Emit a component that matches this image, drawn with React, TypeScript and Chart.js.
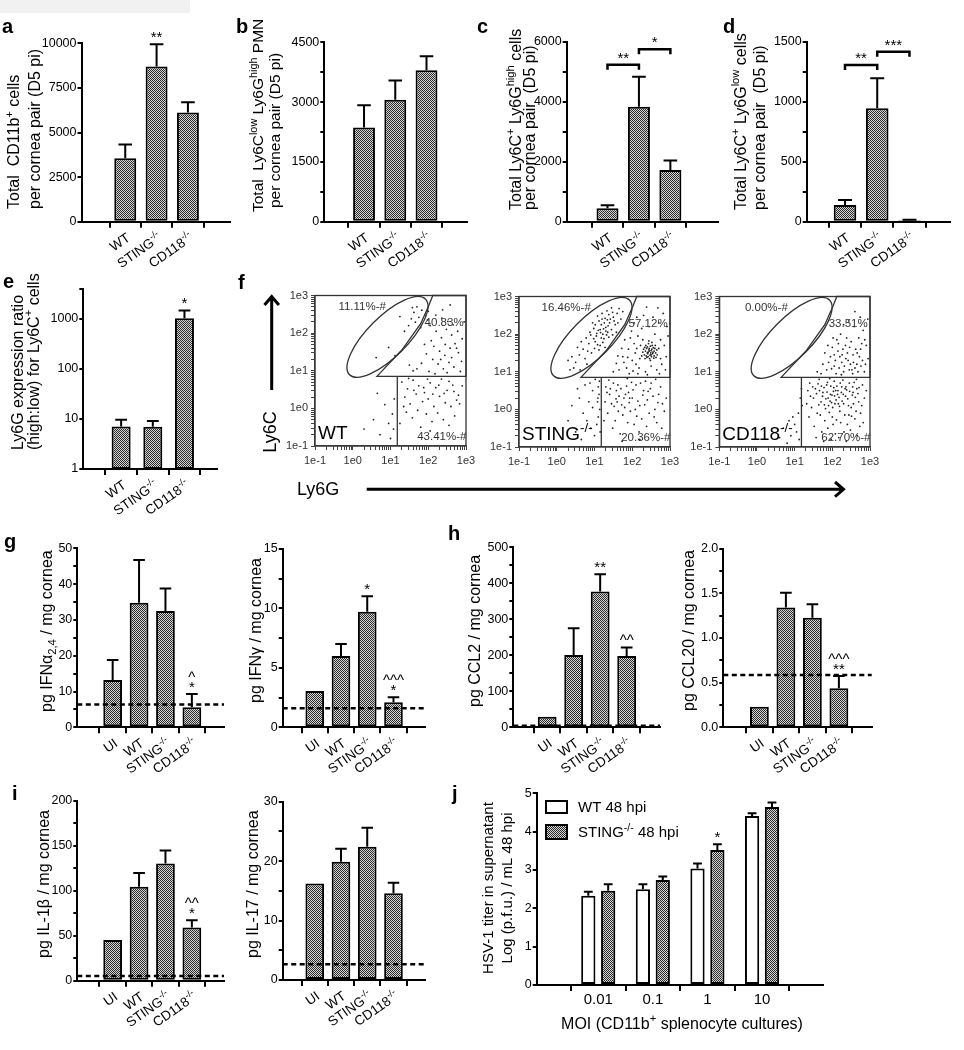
import React, { useEffect, useRef } from 'react';
import { Chart, registerables } from 'chart.js';

Chart.register(...registerables);

const FONT = '"Liberation Sans", Arial, Helvetica, sans-serif';
const PAGE_W = 964;
const PAGE_H = 1050;
const DEG = Math.PI / 180;

// ---------------- data ----------------
const GROUPS_3 = ['WT', 'STING', 'CD118'];
const GROUPS_4 = ['UI', 'WT', 'STING', 'CD118'];
const KNOCKOUTS = ['STING', 'CD118'];
const MOI = ['0.01', '0.1', '1', '10'];

// a
const A_MEAN = [3550, 8700, 6120];
const A_SEM = [780, 1250, 580];
const A_TICKS = [0, 2500, 5000, 7500, 10000];
const A_LABELLED = [0, 2500, 5000, 7500, 10000];
// b
const B_MEAN = [2360, 3060, 3800];
const B_SEM = [560, 480, 350];
const B_TICKS = [0, 750, 1500, 2250, 3000, 3750, 4500];
const B_LABELLED = [0, 1500, 3000, 4500];
// c
const C_MEAN = [450, 3830, 1720];
const C_SEM = [100, 1000, 320];
const C_TICKS = [0, 1000, 2000, 3000, 4000, 5000, 6000];
const C_LABELLED = [0, 2000, 4000, 6000];
const C_BRACKETS: [number, number, number, string][] = [[0, 1, 5230, '**'], [1, 2, 5750, '*']];
// d
const D_MEAN = [139, 945, 12];
const D_SEM = [42, 250, 5];
const D_TICKS = [0, 250, 500, 750, 1000, 1250, 1500];
const D_LABELLED = [0, 500, 1000, 1500];
const D_BRACKETS: [number, number, number, string][] = [[0, 1, 1306, '**'], [1, 2, 1417, '***']];
// e
const E_MEAN = [7.1, 7.0, 1030];
const E_SEM = [2.5, 2.1, 440];
const E_TICKS = [1, 10, 100, 1000, 4000];
const E_LABELLED = [1, 10, 100, 1000];
// g
const G1_MEAN = [13.2, 34.8, 32.5, 5.6];
const G1_SEM = [5.6, 11.9, 6.3, 3.7];
const G1_LOD = 6.4;
const G1_TICKS = [0, 5, 10, 15, 20, 25, 30, 35, 40, 45, 50];
const G1_LABELLED = [0, 10, 20, 30, 40, 50];
const G2_MEAN = [3.05, 6.0, 9.7, 2.1];
const G2_SEM = [0, 1.0, 1.32, 0.42];
const G2_LOD = 1.6;
const G2_TICKS = [0, 2.5, 5, 7.5, 10, 12.5, 15];
const G2_LABELLED = [0, 5, 10, 15];
// h
const H1_MEAN = [29, 201, 377, 198];
const H1_SEM = [0, 74, 48, 24];
const H1_LOD = 4;
const H1_TICKS = [0, 50, 100, 150, 200, 250, 300, 350, 400, 450, 500];
const H1_LABELLED = [0, 100, 200, 300, 400, 500];
const H2_MEAN = [0.23, 1.34, 1.226, 0.436];
const H2_SEM = [0, 0.165, 0.15, 0.138];
const H2_LOD = 0.585;
const H2_TICKS = [0, 0.25, 0.5, 0.75, 1, 1.25, 1.5, 1.75, 2];
const H2_LABELLED = [0, 0.5, 1, 1.5, 2];
// i
const I1_MEAN = [45.2, 104.5, 130.4, 59.3];
const I1_SEM = [0, 15.5, 14.6, 8.1];
const I1_LOD = 5.2;
const I1_TICKS = [0, 25, 50, 75, 100, 125, 150, 175, 200];
const I1_LABELLED = [0, 50, 100, 150, 200];
const I2_MEAN = [16.25, 19.9, 22.4, 14.6];
const I2_SEM = [0, 2.2, 3.2, 1.75];
const I2_LOD = 2.64;
const I2_TICKS = [0, 5, 10, 15, 20, 25, 30];
const I2_LABELLED = [0, 10, 20, 30];
// j
const J_WT_MEAN = [2.33, 2.5, 3.04, 4.41];
const J_WT_SEM = [0.1, 0.13, 0.13, 0.07];
const J_KO_MEAN = [2.46, 2.74, 3.52, 4.64];
const J_KO_SEM = [0.17, 0.09, 0.15, 0.12];
const J_TICKS = [0, 1, 2, 3, 4, 5];

// f : flow cytometry (log10 Ly6G, log10 Ly6C) pairs
const FLOW_MAJOR = [0.1, 1, 10, 100, 1000];
const FLOW_MAJOR_LABELS = ['1e-1', '1e0', '1e1', '1e2', '1e3'];
const GATE_ELLIPSE = [0.92, 1.9, 1.42, 0.53, 45]; // cx, cy, a, b (decades), angle
const GATE_POLY = [[0.64, 0.85], [1.3, 1.55], [1.8, 2.25], [2.02, 2.75], [2.12, 3], [3, 3], [3, 0.85]];
const QUAD_X = 1.18;
const QUAD_Y = 0.85;
const PCT_POS = [[0.25, 2.72], [2.42, 2.29], [2.36, -0.74]];
const WT_PCTS = ['11.11%-#', '40.83%', '43.41%-#'];
const STING_PCTS = ['16.46%-#', '57.12%', '20.36%-#'];
const CD118_PCTS = ['0.00%-#', '33.51%', '62.70%-#'];

const WT_DOTS = [
  1.62, 2.55, 1.75, 2.42, 1.83, 2.61, 1.55, 2.38, 1.91, 2.48, 1.70, 2.70, 1.48, 2.20, 1.98, 2.35, 1.66, 2.29, 1.80, 2.15,
  1.37, 2.05, 0.95, 1.62, 1.12, 1.40, 0.62, 1.35, 1.25, 2.44, 1.58, 2.68,
  2.05, 2.20, 2.21, 2.05, 2.35, 1.88, 2.48, 2.10, 2.62, 1.95, 2.71, 1.72, 2.15, 1.65, 2.30, 1.52, 2.44, 1.41, 2.58, 1.60,
  2.80, 1.48, 2.12, 1.30, 2.26, 1.18, 2.40, 1.05, 2.55, 1.22, 2.68, 1.10, 2.88, 1.25, 1.95, 1.45, 1.82, 1.20, 1.70, 1.05,
  2.02, 0.98, 2.36, 2.40, 2.52, 2.31, 2.66, 2.22, 2.78, 2.05, 2.90, 1.85, 2.20, 2.48, 2.08, 1.80, 1.90, 1.70, 2.45, 1.70,
  2.62, 1.35, 2.75, 1.60, 2.33, 1.30, 2.18, 0.92, 2.50, 0.95, 2.85, 0.98, 1.60, 1.00, 1.50, 1.15, 2.00, 2.58, 2.38, 2.62,
  2.95, 2.30, 2.58, 2.75,
  1.30, 0.70, 1.45, 0.52, 1.60, 0.75, 1.75, 0.60, 1.90, 0.42, 2.05, 0.68, 2.20, 0.55, 2.35, 0.78, 2.50, 0.48, 2.65, 0.62,
  2.80, 0.35, 1.38, 0.30, 1.52, 0.12, 1.68, 0.38, 1.85, 0.18, 2.00, 0.25, 2.15, 0.05, 2.30, 0.32, 2.45, 0.15, 2.60, 0.05,
  2.75, 0.22, 2.90, 0.60, 1.42, -0.10, 1.58, -0.25, 1.72, -0.05, 1.95, -0.15, 2.10, -0.35, 2.25, -0.12, 2.40, -0.30,
  2.55, -0.45, 2.70, -0.20, 1.25, -0.40, 1.35, 0.05, 1.80, -0.50, 2.05, -0.60, 1.62, 0.48, 2.28, 0.62, 2.42, 0.40,
  1.98, 0.78, 2.55, 0.72, 1.88, 0.55, 2.12, 0.38, 1.48, 0.80, 2.68, 0.45, 2.83, 0.12,
  0.95, -0.40, 0.72, -0.70, 1.05, -0.15, 0.55, -0.30, 1.10, 0.25, 0.85, 0.10, 0.30, -0.55, 1.00, -0.80, 0.65, 0.40, 1.08, -0.55,
];

const STING_DOTS = [
  1.10, 2.10, 1.22, 2.00, 1.30, 2.18, 1.05, 1.95, 1.18, 2.25, 1.35, 2.05, 1.25, 1.88, 0.98, 2.15, 1.40, 2.30, 1.12, 2.35,
  1.28, 2.42, 1.45, 2.12, 1.02, 1.80, 1.15, 1.70, 0.90, 1.98, 1.50, 2.45, 1.38, 1.92, 1.20, 2.55, 1.55, 2.25, 0.85, 1.75,
  1.08, 2.48, 1.33, 2.62, 1.60, 2.55, 1.48, 1.98, 0.95, 2.30, 0.78, 1.90, 1.18, 1.90, 1.26, 2.30, 1.42, 2.40, 1.15, 2.12,
  1.06, 2.02, 1.32, 1.98, 0.70, 1.60, 0.60, 1.45, 0.82, 1.55, 0.50, 1.25, 0.40, 1.40, 0.65, 1.80, 0.92, 1.50, 1.00, 1.62,
  0.75, 1.35, 0.55, 1.65, 1.22, 1.78, 1.65, 2.68, 1.70, 2.40, 1.45, 2.70, 1.12, 1.58, 0.88, 2.05, 1.38, 2.52, 1.58, 2.05,
  1.02, 2.25, 1.24, 2.14, 1.36, 2.22, 1.16, 2.04, 1.30, 2.08, 0.98, 1.88, 1.08, 1.72, 0.45, 1.10, 0.30, 1.30, 1.20, 2.40,
  1.75, 2.60, 1.52, 2.35, 1.62, 2.30, 0.80, 1.20, 0.35, 1.05, 1.28, 1.65, 0.62, 1.05, 1.48, 2.58, 1.34, 2.38,
  2.45, 1.55, 2.40, 1.50, 2.52, 1.60, 2.38, 1.62, 2.50, 1.45, 2.55, 1.52, 2.42, 1.40, 2.35, 1.55, 2.48, 1.68, 2.58, 1.42,
  2.44, 1.58, 2.32, 1.45, 2.60, 1.62, 2.46, 1.35, 2.53, 1.70, 2.36, 1.70, 2.62, 1.50, 2.41, 1.48, 2.50, 1.56, 2.47, 1.44,
  2.56, 1.64, 2.30, 1.60, 2.39, 1.38, 2.65, 1.58, 2.43, 1.75, 2.57, 1.36, 2.34, 1.35, 2.49, 1.50, 2.28, 1.52, 2.52, 1.78,
  2.66, 1.45, 2.40, 1.66, 2.54, 1.48, 2.45, 1.62, 2.37, 1.42, 2.61, 1.70, 2.33, 1.65, 2.58, 1.55, 2.48, 1.30, 2.70, 1.62,
  2.25, 1.42, 2.44, 1.82, 2.51, 1.40, 2.63, 1.38, 2.42, 1.52,
  1.75, 1.40, 1.90, 1.60, 2.05, 1.75, 2.15, 1.95, 2.25, 2.15, 2.00, 1.30, 1.85, 1.10, 1.65, 1.05, 2.10, 1.20, 2.20, 1.35,
  1.95, 1.90, 2.05, 2.30, 2.30, 2.50, 2.45, 2.20, 2.60, 2.00, 2.75, 1.85, 2.85, 1.70, 2.90, 1.40, 2.78, 1.20, 2.65, 1.05,
  2.50, 1.15, 2.35, 1.00, 2.15, 0.95, 1.50, 1.00, 1.58, 1.22, 1.72, 1.62, 1.80, 1.85, 1.98, 2.08, 2.12, 2.45, 2.38, 2.72,
  2.55, 2.45, 2.70, 2.30, 2.82, 2.55, 2.95, 1.95, 2.88, 1.05, 2.72, 0.95, 2.40, 0.92, 1.92, 0.95, 1.78, 1.25, 2.08, 1.50,
  2.22, 1.70, 2.18, 1.10, 2.02, 1.02, 2.68, 2.70, 2.92, 2.20, 1.62, 1.42, 1.88, 1.38, 2.28, 1.85, 2.75, 1.35, 2.12, 1.62,
  1.30, 0.60, 1.40, 0.40, 1.50, 0.70, 1.60, 0.20, 1.70, 0.55, 1.80, 0.05, 1.90, 0.45, 2.00, 0.30, 2.10, 0.65, 2.20, 0.10,
  2.30, 0.50, 2.40, 0.25, 2.50, 0.70, 2.60, 0.00, 2.70, 0.40, 2.80, 0.15, 1.35, -0.10, 1.45, 0.15, 1.55, -0.30, 1.65, 0.35,
  1.75, -0.15, 1.85, 0.62, 1.95, -0.05, 2.05, -0.40, 2.15, 0.22, 2.25, -0.25, 2.35, 0.75, 2.45, -0.10, 2.55, 0.35,
  2.65, -0.35, 2.75, 0.60, 2.85, -0.05, 1.28, 0.20, 1.38, 0.78, 1.48, -0.50, 1.58, 0.50, 1.68, -0.65, 1.78, 0.30,
  1.88, -0.35, 1.98, 0.72, 2.08, 0.00, 2.18, -0.60, 2.28, 0.38, 2.38, -0.45, 2.48, 0.55, 2.58, -0.20, 2.68, 0.18,
  2.78, -0.50, 1.42, 0.55, 1.52, 0.08, 1.62, 0.65, 1.72, 0.12, 1.82, 0.40, 1.92, 0.18, 2.02, 0.52, 2.12, -0.18, 2.22, 0.70,
  1.33, 0.45, 1.63, -0.05, 1.93, 0.30, 2.33, 0.12, 1.57, 0.28, 1.87, 0.82, 2.42, 0.48, 2.62, 0.80, 1.25, -0.30, 1.73, -0.85,
  2.20, -0.80, 2.90, 0.30,
  1.10, 0.60, 1.12, 0.40, 1.08, 0.20, 1.14, 0.00, 1.10, -0.20, 1.06, -0.40, 1.13, 0.75, 1.09, 0.30, 0.95, 0.50, 0.85, 0.20,
  0.70, -0.10, 0.90, -0.50, 0.60, 0.30, 0.75, 0.65, 1.00, -0.70, 0.50, -0.60, 0.40, 0.10, 0.95, 0.05, 0.80, -0.30,
  1.02, 0.80, 0.65, -0.80, 0.30, -0.30, 1.15, -0.60, 0.88, 0.70, 0.55, 0.55,
];

const CD118_DOTS = [
  1.60, 1.00, 1.75, 1.20, 1.85, 1.05, 1.95, 1.40, 2.05, 1.15, 2.15, 1.55, 2.25, 1.25, 2.35, 1.70, 2.45, 1.05, 2.55, 1.45,
  2.65, 1.20, 2.75, 1.60, 2.85, 1.00, 2.95, 1.35, 1.70, 0.95, 1.90, 1.25, 2.00, 1.65, 2.10, 0.95, 2.20, 1.40, 2.30, 1.00,
  2.40, 1.50, 2.50, 1.80, 2.60, 1.10, 2.70, 1.90, 2.80, 1.30, 2.90, 1.70, 2.12, 1.85, 2.22, 2.00, 2.32, 1.15, 2.42, 1.30,
  2.52, 1.05, 2.62, 1.60, 2.72, 1.40, 2.82, 2.10, 1.98, 1.08, 2.08, 1.30, 2.18, 1.10, 2.28, 1.60, 2.38, 1.90, 2.48, 1.20,
  2.58, 2.20, 2.68, 1.00, 2.78, 1.75, 2.88, 1.20, 1.80, 1.50, 1.88, 1.70, 2.02, 1.90, 2.16, 1.75, 2.26, 1.45, 2.36, 1.35,
  2.46, 1.65, 2.56, 1.25, 2.66, 1.50, 2.76, 1.15, 2.86, 1.85, 2.94, 2.40, 2.44, 2.35, 2.60, 2.60, 2.30, 2.25, 2.05, 1.45,
  2.24, 0.92, 2.54, 0.95, 2.74, 2.45,
  1.40, 0.70, 1.50, 0.30, 1.55, 0.55, 1.60, -0.10, 1.65, 0.80, 1.70, 0.20, 1.75, 0.45, 1.80, -0.30, 1.85, 0.65, 1.90, 0.10,
  1.95, 0.40, 2.00, -0.20, 2.05, 0.75, 2.10, 0.25, 2.15, 0.50, 2.20, -0.05, 2.25, 0.60, 2.30, 0.15, 2.35, 0.35, 2.40, -0.40,
  2.45, 0.70, 2.50, 0.05, 2.55, 0.45, 2.60, -0.25, 2.65, 0.55, 2.70, 0.20, 2.75, -0.10, 2.80, 0.65, 2.85, 0.30, 1.45, 0.05,
  1.52, -0.45, 1.58, 0.42, 1.64, 0.12, 1.72, -0.60, 1.78, 0.58, 1.83, 0.28, 1.88, -0.50, 1.93, 0.82, 1.98, 0.18, 2.03, 0.48,
  2.08, -0.65, 2.12, 0.62, 2.18, 0.32, 2.22, -0.35, 2.28, 0.78, 2.33, -0.15, 2.38, 0.52, 2.43, 0.10, 2.48, -0.55, 2.53, 0.38,
  2.58, 0.72, 2.63, -0.05, 2.68, 0.42, 2.73, -0.45, 2.78, 0.10, 1.35, 0.50, 1.38, -0.20, 1.42, 0.35, 1.48, 0.60, 1.62, 0.68,
  1.68, -0.15, 1.74, 0.35, 1.82, 0.02, 1.86, 0.46, 1.92, -0.08, 1.96, 0.62, 2.01, 0.05, 2.06, 0.36, 2.11, -0.28, 2.16, 0.15,
  2.21, 0.70, 2.26, 0.22, 2.31, -0.60, 2.36, 0.60, 2.41, 0.28, 2.46, 0.48, 2.51, -0.18, 2.56, 0.15, 2.61, 0.32, 2.66, -0.70,
  2.71, 0.58, 1.57, -0.75, 1.77, -0.85, 1.97, -0.80, 2.17, -0.75, 2.37, -0.85, 1.66, 0.50, 1.89, 0.30, 2.04, 0.58, 2.14, 0.40,
  2.24, 0.45, 2.07, 0.15, 1.94, 0.22, 1.79, 0.12, 2.19, 0.08, 2.29, 0.40, 1.99, 0.38, 2.09, 0.50, 1.87, 0.72, 2.34, 0.55,
  2.02, -0.40, 1.71, 0.62, 2.44, -0.15, 2.54, 0.60, 2.82, -0.35, 2.90, 0.50, 1.32, 0.15, 2.64, 0.80,
  0.90, -0.70, 1.00, -0.40, 1.10, -0.10, 0.80, -0.90, 1.15, 0.30, 0.95, -0.20, 1.05, -0.60, 0.70, -0.50, 1.20, 0.10,
  0.85, -0.30, 1.12, -0.80, 0.60, -0.75, 1.18, 0.55,
];

// ---------------- helpers ----------------
type Seg = [string, number]; // 0 normal, 1 superscript, -1 subscript

function lab(name: string): Seg[] {
  return KNOCKOUTS.indexOf(name) >= 0 ? [[name, 0], ['-/-', 1]] : [[name, 0]];
}

function drawRich(ctx: CanvasRenderingContext2D, segs: Seg[], x: number, y: number, size: number, align: string, rot = 0, color = '#000') {
  ctx.save();
  ctx.translate(x, y);
  ctx.rotate(rot);
  ctx.textAlign = 'left';
  ctx.textBaseline = 'alphabetic';
  ctx.fillStyle = color;
  let w = 0;
  for (const [t, m] of segs) {
    ctx.font = `${m ? size * 0.7 : size}px ${FONT}`;
    w += ctx.measureText(t).width;
  }
  let cx = align === 'center' ? -w / 2 : align === 'right' ? -w : 0;
  const base = size * 0.36;
  for (const [t, m] of segs) {
    ctx.font = `${m ? size * 0.7 : size}px ${FONT}`;
    const dy = m > 0 ? -size * 0.42 : m < 0 ? size * 0.24 : 0;
    ctx.fillText(t, cx, base + dy);
    cx += ctx.measureText(t).width;
  }
  ctx.restore();
}

function drawLetter(ctx: CanvasRenderingContext2D, t: string, x: number, y: number) {
  ctx.save();
  ctx.font = `bold 20px ${FONT}`;
  ctx.fillStyle = '#000';
  ctx.textAlign = 'left';
  ctx.textBaseline = 'alphabetic';
  ctx.fillText(t, x, y);
  ctx.restore();
}

function makePattern(): CanvasPattern {
  const c = document.createElement('canvas');
  c.width = 2;
  c.height = 2;
  const x = c.getContext('2d')!;
  x.fillStyle = '#d6d6d6';
  x.fillRect(0, 0, 2, 2);
  x.fillStyle = '#2a2a2a';
  x.fillRect(0, 0, 1, 1);
  x.fillRect(1, 1, 1, 1);
  return x.createPattern(c, 'repeat')!;
}

interface Title { segs: Seg[]; x: number; y: number; align: string }
interface BarSpec {
  cats: string[];
  series: { mean: number[]; sem: number[]; fill: string }[];
  ticks: number[];
  labelled: number[];
  fmt?: (v: number) => string;
  log?: boolean;
  area: number[];
  xr: number[];
  pct: number[];
  marks?: { s: number; i: number; t: string[] }[];
  brackets?: [number, number, number, string][];
  lod?: number;
  flat?: boolean;
  titleSize?: number;
  titles: Title[];
  letter?: [string, number, number];
  extra?: (ctx: CanvasRenderingContext2D, chart: any, pat: CanvasPattern) => void;
}

function barConfig(sp: BarSpec, pat: CanvasPattern): any {
  const [L, T, R, B] = sp.area;
  const YW = 50;
  const XH = 6;
  const fmt = sp.fmt || ((v: number) => String(v));
  const deco = {
    id: 'deco',
    afterDatasetsDraw(chart: any) {
      const ctx = chart.ctx as CanvasRenderingContext2D;
      const ys = chart.scales.y;
      const xs = chart.scales.x;
      const ca = chart.chartArea;
      ctx.save();
      ctx.strokeStyle = '#000';
      ctx.lineWidth = 2;
      sp.series.forEach((s, si) => {
        const meta = chart.getDatasetMeta(si);
        meta.data.forEach((bar: any, i: number) => {
          const e = s.sem[i];
          if (!e) return;
          const yt = ys.getPixelForValue(s.mean[i] + e);
          const w = bar.width * 0.62;
          ctx.beginPath();
          ctx.moveTo(bar.x, bar.y);
          ctx.lineTo(bar.x, yt);
          ctx.moveTo(bar.x - w / 2, yt);
          ctx.lineTo(bar.x + w / 2, yt);
          ctx.stroke();
        });
      });
      if (sp.lod != null) {
        const y = ys.getPixelForValue(sp.lod);
        ctx.setLineDash([5, 3.5]);
        ctx.lineWidth = 2.5;
        ctx.beginPath();
        ctx.moveTo(ca.left, y);
        ctx.lineTo(ca.right, y);
        ctx.stroke();
        ctx.setLineDash([]);
      }
      ctx.fillStyle = '#000';
      ctx.textAlign = 'center';
      ctx.textBaseline = 'alphabetic';
      ctx.font = `15px ${FONT}`;
      (sp.marks || []).forEach((m) => {
        const bar = chart.getDatasetMeta(m.s).data[m.i];
        const s = sp.series[m.s];
        const yt = ys.getPixelForValue(s.mean[m.i] + (s.sem[m.i] || 0));
        m.t.forEach((t, k) => ctx.fillText(t, bar.x, yt - 10 - k * 10 + 8));
      });
      (sp.brackets || []).forEach(([a, b, v, t]) => {
        const y = ys.getPixelForValue(v);
        const xa = xs.getPixelForValue(a);
        const xb = xs.getPixelForValue(b);
        ctx.lineWidth = 2.5;
        ctx.beginPath();
        ctx.moveTo(xa, y + 5);
        ctx.lineTo(xa, y);
        ctx.lineTo(xb, y);
        ctx.lineTo(xb, y + 5);
        ctx.stroke();
        ctx.fillText(t, (xa + xb) / 2, y - 10 + 8);
      });
      ctx.restore();
    },
    afterDraw(chart: any) {
      const ctx = chart.ctx as CanvasRenderingContext2D;
      const xs = chart.scales.x;
      const ca = chart.chartArea;
      sp.cats.forEach((c, i) => {
        const x = xs.getPixelForValue(i);
        if (sp.flat) drawRich(ctx, lab(c), x, ca.bottom + 14, 15, 'center', 0);
        else drawRich(ctx, lab(c), x + 3, ca.bottom + 14, 13.5, 'right', -35 * DEG);
      });
      sp.titles.forEach((t) => drawRich(ctx, t.segs, t.x, t.y, sp.titleSize || 16, t.align, -90 * DEG));
      if (sp.letter) drawLetter(ctx, sp.letter[0], sp.letter[1], sp.letter[2]);
      if (sp.extra) sp.extra(ctx, chart, pat);
    },
  };
  return {
    type: 'bar',
    data: {
      datasets: sp.series.map((s) => ({
        data: s.mean.map((v, i) => ({ x: i, y: v })),
        backgroundColor: s.fill === 'white' ? '#ffffff' : pat,
        borderColor: '#000',
        borderWidth: 2,
        borderSkipped: false,
        categoryPercentage: sp.pct[0],
        barPercentage: sp.pct[1],
      })),
    },
    options: {
      responsive: false,
      animation: false,
      devicePixelRatio: 1,
      events: [],
      layout: { padding: { left: L - YW, top: T, right: PAGE_W - R, bottom: PAGE_H - B - XH } },
      plugins: { legend: { display: false }, tooltip: { enabled: false } },
      scales: {
        x: {
          type: 'linear',
          min: sp.xr[0],
          max: sp.xr[1],
          afterBuildTicks: (s: any) => {
            s.ticks = sp.cats.map((_, i) => ({ value: i }));
          },
          ticks: { display: false },
          grid: { display: true, drawOnChartArea: false, drawTicks: true, tickLength: XH, color: '#000', lineWidth: 2 },
          border: { display: true, color: '#000', width: 2 },
          afterFit: (s: any) => {
            s.height = XH;
          },
        },
        y: {
          type: sp.log ? 'logarithmic' : 'linear',
          min: sp.ticks[0],
          max: sp.ticks[sp.ticks.length - 1],
          afterBuildTicks: (s: any) => {
            s.ticks = sp.ticks.map((v) => ({ value: v }));
          },
          ticks: {
            autoSkip: false,
            padding: 1,
            color: '#000',
            font: { family: FONT, size: 12.5 },
            callback: (v: number) => (sp.labelled.some((l) => Math.abs(l - v) < 1e-9) ? fmt(v) : ''),
          },
          grid: { display: true, drawOnChartArea: false, drawTicks: true, tickLength: 4, color: '#000', lineWidth: 2 },
          border: { display: true, color: '#000', width: 2 },
          afterFit: (s: any) => {
            s.width = YW;
          },
        },
      },
    },
    plugins: [deco],
  };
}

interface FlowSpec {
  dots: number[];
  pcts: string[];
  name: string;
  area: number[];
  extra?: (ctx: CanvasRenderingContext2D) => void;
}

function flowConfig(sp: FlowSpec): any {
  const [L, T, R, B] = sp.area;
  const YW = 34;
  const XH = 24;
  const pts: { x: number; y: number }[] = [];
  for (let k = 0; k + 1 < sp.dots.length; k += 2) pts.push({ x: Math.pow(10, sp.dots[k]), y: Math.pow(10, sp.dots[k + 1]) });
  const allTicks: number[] = [];
  FLOW_MAJOR.forEach((m, k) => {
    allTicks.push(m);
    if (k < FLOW_MAJOR.length - 1) for (let j = 2; j <= 9; j++) allTicks.push(m * j);
  });
  const fmtTick = (v: number) => {
    const k = FLOW_MAJOR.findIndex((m) => Math.abs(m - v) / m < 1e-6);
    return k >= 0 ? FLOW_MAJOR_LABELS[k] : '';
  };
  const axis = (isX: boolean) => ({
    type: 'logarithmic',
    min: 0.1,
    max: 1000,
    afterBuildTicks: (s: any) => {
      s.ticks = allTicks.map((v) => ({ value: v }));
    },
    ticks: { autoSkip: false, maxRotation: 0, padding: isX ? 4 : 3, color: '#333', font: { family: FONT, size: 11 }, callback: fmtTick },
    grid: { display: true, drawOnChartArea: false, drawTicks: true, tickLength: 4, color: '#444', lineWidth: 1 },
    border: { display: true, color: '#444', width: 1.3 },
    afterFit: (s: any) => {
      if (isX) s.height = XH;
      else s.width = YW;
    },
  });
  const deco = {
    id: 'flowdeco',
    afterDraw(chart: any) {
      const ctx = chart.ctx as CanvasRenderingContext2D;
      const xs = chart.scales.x;
      const ys = chart.scales.y;
      const ca = chart.chartArea;
      const px = (v: number) => xs.getPixelForValue(Math.pow(10, v));
      const py = (v: number) => ys.getPixelForValue(Math.pow(10, v));
      const dec = (ca.right - ca.left) / 4;
      ctx.save();
      ctx.strokeStyle = '#333';
      ctx.lineWidth = 1.3;
      ctx.strokeRect(ca.left, ca.top, ca.right - ca.left, ca.bottom - ca.top);
      const [ecx, ecy, ea, eb, ang] = GATE_ELLIPSE;
      ctx.beginPath();
      ctx.ellipse(px(ecx), py(ecy), ea * dec, eb * dec, -ang * DEG, 0, Math.PI * 2);
      ctx.stroke();
      ctx.beginPath();
      GATE_POLY.forEach(([a, b], k) => (k ? ctx.lineTo(px(a), py(b)) : ctx.moveTo(px(a), py(b))));
      ctx.closePath();
      ctx.stroke();
      ctx.beginPath();
      ctx.moveTo(px(QUAD_X), py(QUAD_Y));
      ctx.lineTo(px(QUAD_X), ca.bottom);
      ctx.stroke();
      ctx.restore();
      sp.pcts.forEach((t, k) => drawRich(ctx, [[t, 0]], px(PCT_POS[k][0]), py(PCT_POS[k][1]), 11.5, 'center', 0, '#333'));
      drawRich(ctx, lab(sp.name), ca.left + 3, py(-0.62), 19, 'left', 0);
      if (sp.extra) sp.extra(ctx);
    },
  };
  return {
    type: 'scatter',
    data: { datasets: [{ data: pts, pointRadius: 0.9, pointBorderWidth: 0, pointBackgroundColor: '#222' }] },
    options: {
      responsive: false,
      animation: false,
      devicePixelRatio: 1,
      events: [],
      layout: { padding: { left: L - YW, top: T, right: PAGE_W - R, bottom: PAGE_H - B - XH } },
      plugins: { legend: { display: false }, tooltip: { enabled: false } },
      scales: { x: axis(true), y: axis(false) },
    },
    plugins: [deco],
  };
}

// ---------------- panel definitions ----------------
const P3 = [1, 0.7];
const P4 = [1, 0.71];

function flowArrows(ctx: CanvasRenderingContext2D) {
  ctx.save();
  ctx.strokeStyle = '#000';
  ctx.lineWidth = 3;
  ctx.beginPath();
  ctx.moveTo(271.7, 390);
  ctx.lineTo(271.7, 297);
  ctx.moveTo(264.5, 305);
  ctx.lineTo(271.7, 296.5);
  ctx.lineTo(278.9, 305);
  ctx.moveTo(366.7, 489.3);
  ctx.lineTo(843, 489.3);
  ctx.moveTo(835, 482);
  ctx.lineTo(843.5, 489.3);
  ctx.lineTo(835, 496.6);
  ctx.stroke();
  ctx.restore();
  drawRich(ctx, [['Ly6C', 0]], 270, 432, 18, 'center', -90 * DEG);
  drawRich(ctx, [['Ly6G', 0]], 297, 489, 18, 'left', 0);
  drawLetter(ctx, 'f', 238, 289);
}

function jExtra(ctx: CanvasRenderingContext2D, _chart: any, pat: CanvasPattern) {
  ctx.save();
  ctx.strokeStyle = '#000';
  ctx.lineWidth = 2;
  ctx.fillStyle = '#fff';
  ctx.fillRect(546, 801, 21, 12);
  ctx.strokeRect(546, 801, 21, 12);
  ctx.fillStyle = pat;
  ctx.fillRect(546, 825, 21, 14);
  ctx.strokeRect(546, 825, 21, 14);
  ctx.restore();
  drawRich(ctx, [['WT 48 hpi', 0]], 578, 807, 15, 'left');
  drawRich(ctx, [['STING', 0], ['-/-', 1], [' 48 hpi', 0]], 578, 832, 15, 'left');
  drawRich(ctx, [['MOI (CD11b', 0], ['+', 1], [' splenocyte cultures)', 0]], 682, 1023, 16, 'center');
}

function buildSpecs(): { bars: BarSpec[]; flows: FlowSpec[] } {
  const bars: BarSpec[] = [
    {
      cats: GROUPS_3, series: [{ mean: A_MEAN, sem: A_SEM, fill: 'pat' }], ticks: A_TICKS, labelled: A_LABELLED,
      area: [81.5, 43.3, 230, 221.7], xr: [-0.606, 2.553], pct: P3,
      marks: [{ s: 0, i: 1, t: ['**'] }],
      titles: [
        { segs: [['Total  CD11b', 0], ['+', 1], [' cells', 0]], x: 13.5, y: 209, align: 'left' },
        { segs: [['per cornea pair (D5 pi)', 0]], x: 34, y: 209, align: 'left' },
      ],
      letter: ['a', 2, 33],
    },
    {
      cats: GROUPS_3, series: [{ mean: B_MEAN, sem: B_SEM, fill: 'pat' }], ticks: B_TICKS, labelled: B_LABELLED,
      area: [324.3, 42.3, 466.7, 221.7], xr: [-0.512, 2.527], pct: P3,
      titleSize: 15.5,
      titles: [
        { segs: [['Total  Ly6C', 0], ['low', 1], [' Ly6G', 0], ['high', 1], [' PMN', 0]], x: 257.5, y: 212, align: 'left' },
        { segs: [['per cornea pair (D5 pi)', 0]], x: 274.5, y: 208, align: 'left' },
      ],
      letter: ['b', 236, 33],
    },
    {
      cats: GROUPS_3, series: [{ mean: C_MEAN, sem: C_SEM, fill: 'pat' }], ticks: C_TICKS, labelled: C_LABELLED,
      area: [566.7, 41.7, 718.3, 221.7], xr: [-0.494, 2.721], pct: P3, brackets: C_BRACKETS,
      titles: [
        { segs: [['Total Ly6C', 0], ['+', 1], [' Ly6G', 0], ['high', 1], [' cells', 0]], x: 515, y: 210, align: 'left' },
        { segs: [['per cornea pair  (D5 pi)', 0]], x: 529, y: 210, align: 'left' },
      ],
      letter: ['c', 477, 33],
    },
    {
      cats: GROUPS_3, series: [{ mean: D_MEAN, sem: D_SEM, fill: 'pat' }], ticks: D_TICKS, labelled: D_LABELLED,
      area: [806.7, 41.7, 950, 221.7], xr: [-0.447, 2.517], pct: P3, brackets: D_BRACKETS,
      titles: [
        { segs: [['Total Ly6C', 0], ['+', 1], [' Ly6G', 0], ['low', 1], [' cells', 0]], x: 740, y: 210, align: 'left' },
        { segs: [['per cornea pair  (D5 pi)', 0]], x: 759, y: 210, align: 'left' },
      ],
      letter: ['d', 723, 33],
    },
    {
      cats: GROUPS_3, series: [{ mean: E_MEAN, sem: E_SEM, fill: 'pat' }], ticks: E_TICKS, labelled: E_LABELLED, log: true,
      area: [83.3, 288.7, 216.7, 469], xr: [-0.493, 2.316], pct: [1, 0.6],
      marks: [{ s: 0, i: 2, t: ['*'] }],
      titles: [
        { segs: [['Ly6G expression ratio', 0]], x: 17, y: 450, align: 'left' },
        { segs: [['(high:low) for Ly6C', 0], ['+', 1], [' cells', 0]], x: 33, y: 450, align: 'left' },
      ],
      letter: ['e', 3, 288],
    },
    {
      cats: GROUPS_4, series: [{ mean: G1_MEAN, sem: G1_SEM, fill: 'pat' }], ticks: G1_TICKS, labelled: G1_LABELLED, lod: G1_LOD,
      area: [77.3, 548.3, 224, 727.3], xr: [-0.645, 3.523], pct: P4,
      marks: [{ s: 0, i: 3, t: ['*', '^'] }],
      titles: [{ segs: [['pg IFNα', 0], ['2,4', -1], [' / mg cornea', 0]], x: 46, y: 712, align: 'left' }],
      letter: ['g', 4, 548],
    },
    {
      cats: GROUPS_4, series: [{ mean: G2_MEAN, sem: G2_SEM, fill: 'pat' }], ticks: G2_TICKS, labelled: G2_LABELLED, lod: G2_LOD,
      area: [282.7, 548.8, 425, 727.3], xr: [-0.543, 3.523], pct: P4,
      marks: [{ s: 0, i: 2, t: ['*'] }, { s: 0, i: 3, t: ['*', '^^^'] }],
      titles: [{ segs: [['pg IFNγ / mg cornea', 0]], x: 255, y: 703, align: 'left' }],
    },
    {
      cats: GROUPS_4, series: [{ mean: H1_MEAN, sem: H1_SEM, fill: 'pat' }], ticks: H1_TICKS, labelled: H1_LABELLED, lod: H1_LOD,
      area: [513.3, 547.3, 660, 727.3], xr: [-0.586, 3.566], pct: P4,
      marks: [{ s: 0, i: 2, t: ['**'] }, { s: 0, i: 3, t: ['^^'] }],
      titles: [{ segs: [['pg CCL2 / mg cornea', 0]], x: 474, y: 707, align: 'left' }],
      letter: ['h', 448, 540],
    },
    {
      cats: GROUPS_4, series: [{ mean: H2_MEAN, sem: H2_SEM, fill: 'pat' }], ticks: H2_TICKS, labelled: H2_LABELLED, lod: H2_LOD,
      fmt: (v: number) => v.toFixed(1),
      area: [723.3, 548.6, 871.7, 727.3], xr: [-0.662, 3.538], pct: P4,
      marks: [{ s: 0, i: 3, t: ['**', '^^^'] }],
      titles: [{ segs: [['pg CCL20 / mg cornea', 0]], x: 688, y: 711, align: 'left' }],
    },
    {
      cats: GROUPS_4, series: [{ mean: I1_MEAN, sem: I1_SEM, fill: 'pat' }], ticks: I1_TICKS, labelled: I1_LABELLED, lod: I1_LOD,
      area: [77.3, 801, 224, 980.7], xr: [-0.645, 3.523], pct: P4,
      marks: [{ s: 0, i: 3, t: ['*', '^^'] }],
      titles: [{ segs: [['pg IL-1β / mg cornea', 0]], x: 43.5, y: 958, align: 'left' }],
      letter: ['i', 12, 800],
    },
    {
      cats: GROUPS_4, series: [{ mean: I2_MEAN, sem: I2_SEM, fill: 'pat' }], ticks: I2_TICKS, labelled: I2_LABELLED, lod: I2_LOD,
      area: [282.7, 801.7, 425, 980], xr: [-0.543, 3.523], pct: P4,
      titles: [{ segs: [['pg IL-17 / mg cornea', 0]], x: 252, y: 958, align: 'left' }],
    },
    {
      cats: MOI,
      series: [
        { mean: J_WT_MEAN, sem: J_WT_SEM, fill: 'white' },
        { mean: J_KO_MEAN, sem: J_KO_SEM, fill: 'pat' },
      ],
      ticks: J_TICKS, labelled: J_TICKS,
      area: [536.7, 793.3, 823.3, 985], xr: [-0.471, 3.466], pct: [0.728, 0.717], flat: true,
      marks: [{ s: 1, i: 2, t: ['*'] }],
      titleSize: 15,
      titles: [
        { segs: [['HSV-1 titer in supernatant', 0]], x: 488, y: 888, align: 'center' },
        { segs: [['Log (p.f.u.) / mL 48 hpi', 0]], x: 507, y: 888, align: 'center' },
      ],
      letter: ['j', 452, 800],
      extra: jExtra,
    },
  ];
  const flows: FlowSpec[] = [
    { dots: WT_DOTS, pcts: WT_PCTS, name: 'WT', area: [315, 295.5, 466, 446], extra: flowArrows },
    { dots: STING_DOTS, pcts: STING_PCTS, name: 'STING', area: [519, 296.5, 670, 447] },
    { dots: CD118_DOTS, pcts: CD118_PCTS, name: 'CD118', area: [719.3, 296.5, 870, 447] },
  ];
  return { bars, flows };
}

const N_CHARTS = 15;

export default function App() {
  const refs = useRef<(HTMLCanvasElement | null)[]>([]);
  useEffect(() => {
    const pat = makePattern();
    const { bars, flows } = buildSpecs();
    const configs = [...bars.map((b) => barConfig(b, pat)), ...flows.map((f) => flowConfig(f))];
    const charts: Chart[] = [];
    configs.forEach((cfg, i) => {
      const cv = refs.current[i];
      if (cv) charts.push(new Chart(cv, cfg));
    });
    return () => charts.forEach((c) => c.destroy());
  }, []);
  return (
    <div style={{ position: 'absolute', left: 0, top: 0, width: PAGE_W, height: PAGE_H, background: '#fff', overflow: 'hidden' }}>
      <div style={{ position: 'absolute', left: 0, top: 0, width: 190, height: 13, background: '#f1f1f1' }} />
      {Array.from({ length: N_CHARTS }).map((_, i) => (
        <canvas
          key={i}
          ref={(el) => {
            refs.current[i] = el;
          }}
          width={PAGE_W}
          height={PAGE_H}
          style={{ position: 'absolute', left: 0, top: 0 }}
        />
      ))}
    </div>
  );
}
